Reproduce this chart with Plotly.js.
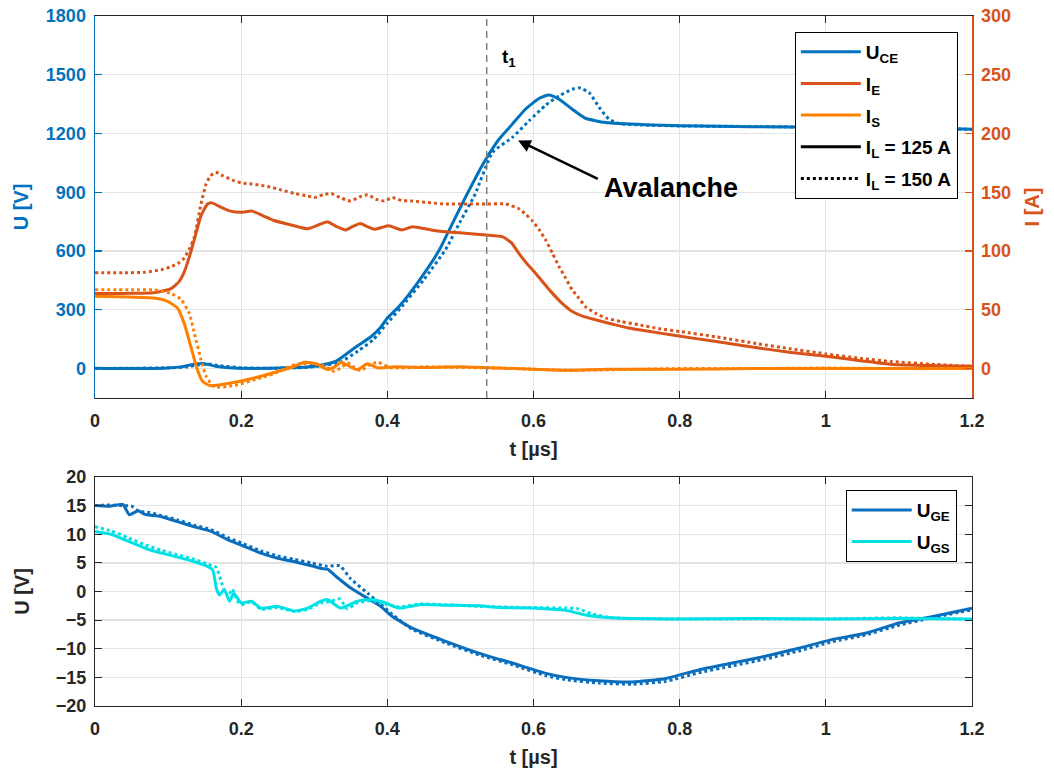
<!DOCTYPE html>
<html>
<head>
<meta charset="utf-8">
<script src="https://cdn.plot.ly/plotly-3.0.1.min.js"></script>
<style>
  html, body { margin: 0; padding: 0; background: #ffffff; }
  #chart { width: 1054px; height: 771px; }
</style>
</head>
<body>
<div id="chart"></div>
<script>
// ---- Switching transient: collector-emitter voltage and currents ----
// U_CE [V], I_L = 125 A (solid) and I_L = 150 A (dotted)
const tUce125 = [0, 0.05, 0.1, 0.12, 0.135, 0.15, 0.165, 0.19, 0.22, 0.26, 0.29, 0.31, 0.33, 0.355, 0.378, 0.39, 0.4, 0.416, 0.444, 0.471, 0.489, 0.507, 0.526, 0.535, 0.553, 0.571, 0.589, 0.608, 0.621, 0.635, 0.653, 0.671, 0.699, 0.753, 0.8, 0.9, 1.0, 1.1, 1.2];
const uce125  = [2, 0, 3, 10, 22, 25, 12, 3, 1, 4, 8, 18, 38, 105, 164, 207, 258, 317, 452, 605, 740, 875, 1011, 1070, 1172, 1248, 1324, 1380, 1397, 1375, 1324, 1278, 1256, 1245, 1240, 1235, 1233, 1232, 1222];
const tUce150 = [0, 0.05, 0.1, 0.125, 0.14, 0.155, 0.17, 0.2, 0.25, 0.29, 0.31, 0.335, 0.36, 0.38, 0.4, 0.42, 0.45, 0.48, 0.5, 0.52, 0.544, 0.571, 0.594, 0.617, 0.635, 0.653, 0.662, 0.676, 0.69, 0.703, 0.717, 0.75, 0.8, 0.9, 1.0, 1.1, 1.2];
const uce150  = [0, 2, 4, 8, 18, 24, 15, 4, 2, 6, 14, 32, 90, 145, 232, 318, 455, 610, 752, 890, 1104, 1180, 1265, 1346, 1392, 1426, 1434, 1409, 1333, 1274, 1251, 1243, 1239, 1236, 1232, 1230, 1221];

// I_E [A]
const tIe125 = [0, 0.04, 0.08, 0.104, 0.115, 0.122, 0.13, 0.136, 0.145, 0.154, 0.16, 0.17, 0.185, 0.2, 0.215, 0.23, 0.245, 0.27, 0.291, 0.305, 0.318, 0.33, 0.343, 0.353, 0.363, 0.372, 0.382, 0.392, 0.402, 0.42, 0.434, 0.46, 0.48, 0.51, 0.535, 0.558, 0.57, 0.58, 0.59, 0.603, 0.615, 0.626, 0.64, 0.653, 0.67, 0.685, 0.71, 0.73, 0.76, 0.79, 0.85, 0.908, 0.95, 1.0, 1.05, 1.09, 1.15, 1.2];
const ie125  = [64, 64, 64.5, 68, 74, 82, 97, 110, 130, 140, 141, 138, 134, 133, 134, 130, 126, 122, 119, 122, 125, 121, 118, 121, 123.5, 121, 118.5, 120, 121.5, 118, 120.6, 118, 116.4, 115, 113.6, 112, 107, 98, 90, 81, 72, 64, 55, 48.6, 44, 41.5, 37.5, 34.5, 31.5, 28.5, 23, 17.5, 14, 10.5, 6.5, 3.5, 2.5, 2];
const tIe150 = [0, 0.04, 0.068, 0.09, 0.104, 0.115, 0.122, 0.13, 0.136, 0.145, 0.152, 0.158, 0.165, 0.175, 0.19, 0.2, 0.215, 0.236, 0.255, 0.273, 0.29, 0.3, 0.312, 0.323, 0.337, 0.35, 0.362, 0.373, 0.385, 0.396, 0.407, 0.42, 0.434, 0.46, 0.48, 0.51, 0.535, 0.562, 0.58, 0.59, 0.598, 0.608, 0.617, 0.626, 0.635, 0.644, 0.653, 0.662, 0.671, 0.685, 0.699, 0.72, 0.744, 0.772, 0.8, 0.85, 0.908, 0.95, 1.0, 1.05, 1.09, 1.15, 1.2];
const ie150  = [81.5, 81.5, 82, 84, 86.7, 90, 94, 103, 112, 140, 157, 164, 167, 164, 160, 158, 157, 155, 152, 149, 147, 145.5, 148, 149, 145, 142.6, 146, 148, 144, 142.6, 145.5, 143, 142.6, 141, 140, 140, 140, 140, 136, 131, 126, 118, 109, 98, 86.7, 77, 67, 60, 52.8, 47, 43, 40, 37.3, 34, 31.6, 27, 21, 17, 12.5, 8.5, 6, 3.5, 2];

// I_S [A]
const tIs125 = [0, 0.044, 0.081, 0.1, 0.113, 0.122, 0.131, 0.14, 0.147, 0.157, 0.17, 0.182, 0.2, 0.227, 0.25, 0.273, 0.286, 0.296, 0.305, 0.318, 0.328, 0.337, 0.348, 0.359, 0.373, 0.387, 0.41, 0.45, 0.5, 0.55, 0.6, 0.65, 0.7, 0.8, 0.9, 1.0, 1.1, 1.2];
const is125  = [61.5, 61, 60, 57, 51.4, 38.7, 19, -0.8, -10.8, -14.4, -14, -12.7, -10.5, -6.5, -2.5, 2, 5.4, 5, 3.4, -0.8, 1.5, 5.4, 2, -0.8, 4.2, 0.6, 1.5, 1, 1.5, 0.5, -0.5, -1.5, -0.5, -0.5, 0, 0, 0, 0];
const tIs150 = [0, 0.05, 0.081, 0.104, 0.118, 0.129, 0.136, 0.145, 0.152, 0.163, 0.19, 0.227, 0.25, 0.273, 0.3, 0.315, 0.327, 0.337, 0.346, 0.355, 0.364, 0.375, 0.387, 0.405, 0.45, 0.5, 0.55, 0.6, 0.65, 0.7, 0.8, 0.9, 1.0, 1.1, 1.2];
const is150  = [67, 67, 67, 64, 58.7, 47, 30, 7.6, -6.5, -15.5, -14.4, -7.9, -3, 3.4, 4.2, 2, -2.3, 1, 4.8, 1, -1.7, 3, 5.4, 0.6, 1.5, 1, 0.5, -0.5, -1.5, -1, 0, 0, 0.5, 0, 0];

// ---- Gate voltages [V] ----
const tUge125 = [0, 0.02, 0.038, 0.047, 0.059, 0.068, 0.09, 0.113, 0.136, 0.159, 0.182, 0.2, 0.227, 0.25, 0.273, 0.296, 0.31, 0.318, 0.332, 0.35, 0.373, 0.391, 0.405, 0.434, 0.48, 0.526, 0.571, 0.617, 0.644, 0.69, 0.735, 0.781, 0.826, 0.872, 0.917, 0.963, 1.008, 1.054, 1.1, 1.145, 1.2];
const uge125  = [15, 14.9, 15.2, 13.4, 14.1, 13.5, 13.1, 12.2, 11.3, 10.5, 9.0, 8.1, 6.7, 5.8, 5.2, 4.5, 4.0, 3.9, 2.4, 0.6, -1.2, -2.6, -4.2, -6.4, -8.7, -10.8, -12.5, -14.3, -15.0, -15.6, -15.8, -15.2, -13.7, -12.5, -11.3, -9.9, -8.4, -7.3, -5.5, -4.4, -2.9];
const tUge150 = [0, 0.02, 0.038, 0.05, 0.06, 0.075, 0.09, 0.113, 0.136, 0.159, 0.182, 0.2, 0.227, 0.25, 0.273, 0.296, 0.318, 0.335, 0.35, 0.373, 0.391, 0.405, 0.434, 0.48, 0.526, 0.571, 0.617, 0.644, 0.69, 0.735, 0.781, 0.826, 0.872, 0.917, 0.963, 1.008, 1.054, 1.1, 1.145, 1.2];
const uge150  = [15, 15.1, 15.0, 14.9, 14.0, 13.8, 13.3, 12.5, 11.6, 10.8, 9.4, 8.5, 7.1, 6.2, 5.6, 5.0, 4.4, 4.5, 2.2, -0.3, -2.2, -3.8, -6.6, -9.0, -11.1, -12.8, -14.7, -15.4, -16.0, -16.2, -15.7, -14.2, -13.0, -11.8, -10.4, -8.8, -7.6, -5.9, -4.6, -3.2];
const tUgs125 = [0, 0.022, 0.045, 0.068, 0.091, 0.113, 0.136, 0.154, 0.161, 0.166, 0.17, 0.177, 0.184, 0.19, 0.2, 0.214, 0.227, 0.25, 0.273, 0.291, 0.309, 0.318, 0.336, 0.359, 0.378, 0.398, 0.416, 0.444, 0.48, 0.526, 0.553, 0.594, 0.644, 0.671, 0.708, 0.79, 0.9, 1.0, 1.1, 1.2];
const ugs125  = [10.5, 10.0, 8.8, 7.6, 6.7, 6.0, 5.2, 4.4, 3.8, 0.6, -0.6, 0.3, -1.7, -0.3, -2.0, -1.7, -2.9, -2.6, -3.4, -2.9, -1.7, -1.4, -2.9, -1.7, -1.4, -2.0, -2.9, -2.3, -2.4, -2.5, -2.8, -2.9, -3.3, -4.1, -4.6, -4.8, -4.7, -4.8, -4.7, -4.8];
const tUgs150 = [0, 0.022, 0.045, 0.068, 0.091, 0.113, 0.136, 0.154, 0.166, 0.172, 0.176, 0.182, 0.188, 0.194, 0.2, 0.214, 0.227, 0.25, 0.273, 0.291, 0.309, 0.32, 0.335, 0.345, 0.359, 0.378, 0.4, 0.416, 0.444, 0.48, 0.526, 0.594, 0.644, 0.66, 0.68, 0.708, 0.79, 0.9, 1.0, 1.1, 1.2];
const ugs150  = [11.3, 10.6, 9.4, 8.2, 7.2, 6.4, 5.6, 4.8, 4.2, 2.0, 0.5, -0.8, 0.4, -1.5, -2.3, -1.8, -3.1, -2.8, -3.5, -3.1, -2.0, -1.8, -1.3, -3.0, -2.0, -1.6, -2.3, -2.7, -2.2, -2.3, -2.6, -2.8, -2.9, -3.0, -3.9, -4.6, -4.8, -4.8, -4.8, -4.6, -4.9];

// Tick labels
const tTicks = [0, 0.2, 0.4, 0.6, 0.8, 1, 1.2];
const tTickText = ['0', '0.2', '0.4', '0.6', '0.8', '1', '1.2'];
const uTicks = [0, 300, 600, 900, 1200, 1500, 1800];
const iTicks = [0, 50, 100, 150, 200, 250, 300];
const gTicks = [-20, -15, -10, -5, 0, 5, 10, 15, 20];

// Event marker position t1 [µs]
const tEvent = 0.536;

const C_UCE = '#0072BD', C_IE = '#D95319', C_IS = '#FF8000';
const C_UGE = '#0A6EBD', C_UGS = '#00E1E6';
const FONT = 'Liberation Sans, Arial, Helvetica, sans-serif';
const AXC = '#262626', GRID = '#e3e3e3';
const LW = 3;

function line(x, y, color, dash, xa, ya, name, show, legend, group) {
  return {
    x: x, y: y, type: 'scatter', mode: 'lines', xaxis: xa, yaxis: ya,
    name: name, showlegend: show, legend: legend, legendgroup: group,
    line: { color: color, width: LW, dash: dash, shape: 'spline', smoothing: 0.5 },
    hoverinfo: 'skip'
  };
}

const traces = [
  line(tUce125, uce125, C_UCE, 'solid', 'x', 'y', '<b>U<sub>CE</sub></b>', true, 'legend', 'a'),
  line(tUce150, uce150, C_UCE, 'dot', 'x', 'y', 'U_CE 150', false, 'legend', 'a'),
  line(tIe125, ie125, C_IE, 'solid', 'x', 'y2', '<b>I<sub>E</sub></b>', true, 'legend', 'b'),
  line(tIe150, ie150, C_IE, 'dot', 'x', 'y2', 'I_E 150', false, 'legend', 'b'),
  line(tIs125, is125, C_IS, 'solid', 'x', 'y2', '<b>I<sub>S</sub></b>', true, 'legend', 'c'),
  line(tIs150, is150, C_IS, 'dot', 'x', 'y2', 'I_S 150', false, 'legend', 'c'),
  line([null], [null], '#000000', 'solid', 'x', 'y2', '<b>I<sub>L</sub> = 125 A</b>', true, 'legend', 'd'),
  line([null], [null], '#000000', 'dot', 'x', 'y2', '<b>I<sub>L</sub> = 150 A</b>', true, 'legend', 'e'),
  line(tUge125, uge125, C_UGE, 'solid', 'x2', 'y3', '<b>U<sub>GE</sub></b>', true, 'legend2', 'f'),
  line(tUge150, uge150, C_UGE, 'dot', 'x2', 'y3', 'U_GE 150', false, 'legend2', 'f'),
  line(tUgs125, ugs125, C_UGS, 'solid', 'x2', 'y3', '<b>U<sub>GS</sub></b>', true, 'legend2', 'g'),
  line(tUgs150, ugs150, C_UGS, 'dot', 'x2', 'y3', 'U_GS 150', false, 'legend2', 'g')
];

const tick = (c) => ({ family: FONT, size: 18, color: c, weight: 'bold' });
const ttl = (txt, c, so) => ({ text: txt, font: { family: FONT, size: 20, color: c, weight: 'bold' }, standoff: so });

const xBase = {
  range: [0, 1.2], tickvals: tTicks, ticktext: tTickText,
  ticks: 'inside', ticklen: 7, tickwidth: 1.2, tickcolor: AXC,
  showline: true, linecolor: AXC, linewidth: 1.2, mirror: 'ticks',
  showgrid: true, gridcolor: GRID, gridwidth: 1.3, zeroline: false,
  tickfont: tick(AXC), automargin: false, ticklabelstandoff: 6,
  title: ttl('t [µs]', AXC, 12)
};

const legendBase = {
  xanchor: 'left', yanchor: 'top',
  bgcolor: '#ffffff', bordercolor: '#000000', borderwidth: 1,
  font: { family: FONT, size: 19, color: '#000000' },
  tracegroupgap: 4, itemwidth: 60, traceorder: 'grouped'
};

const layout = {
  width: 1054, height: 771,
  margin: { l: 95, r: 82, t: 16, b: 65 },
  paper_bgcolor: '#ffffff', plot_bgcolor: '#ffffff',
  font: { family: FONT, color: AXC },
  xaxis: Object.assign({}, xBase, { domain: [0, 1], anchor: 'y' }),
  yaxis: {
    domain: [0.4464, 1], range: [-150, 1800], tickvals: uTicks,
    ticks: 'inside', ticklen: 7, tickwidth: 1.2, tickcolor: C_UCE,
    showline: true, linecolor: C_UCE, linewidth: 1.5,
    showgrid: true, gridcolor: GRID, gridwidth: 1.3, zeroline: false,
    tickfont: tick(C_UCE), automargin: false, ticklabelstandoff: 4,
    title: ttl('U [V]', C_UCE, 12)
  },
  yaxis2: {
    overlaying: 'y', side: 'right', anchor: 'x', range: [-25, 300], tickvals: iTicks,
    ticks: 'inside', ticklen: 7, tickwidth: 1.2, tickcolor: C_IE,
    showline: true, linecolor: C_IE, linewidth: 1.5,
    showgrid: false, zeroline: false,
    tickfont: tick(C_IE), automargin: false, ticklabelstandoff: 4,
    title: ttl('I [A]', C_IE, 15)
  },
  xaxis2: Object.assign({}, xBase, { domain: [0, 1], anchor: 'y3' }),
  yaxis3: {
    domain: [0, 0.3319], anchor: 'x2', range: [-20, 20], tickvals: gTicks,
    ticks: 'inside', ticklen: 7, tickwidth: 1.2, tickcolor: AXC,
    showline: true, linecolor: AXC, linewidth: 1.2, mirror: 'ticks',
    showgrid: true, gridcolor: GRID, gridwidth: 1.3, zeroline: false,
    tickfont: tick(AXC), automargin: false, ticklabelstandoff: 4,
    title: ttl('U [V]', AXC, 20)
  },
  legend: Object.assign({}, legendBase, { x: 0.798, y: 0.977 }),
  legend2: Object.assign({}, legendBase, { x: 0.856, y: 0.313 }),
  shapes: [{
    type: 'line', xref: 'x', yref: 'y', x0: tEvent, x1: tEvent, y0: -150, y1: 1800,
    line: { color: '#808080', width: 1.5, dash: '7px,5px' }, layer: 'above'
  }],
  annotations: [
    {
      xref: 'x', yref: 'y', x: 0.567, y: 1587, text: '<b>t<sub>1</sub></b>',
      showarrow: false, font: { family: FONT, size: 19, color: '#000000' }
    },
    {
      xref: 'x', yref: 'y', x: 0.788, y: 920, text: '<b>Avalanche</b>',
      showarrow: false, font: { family: FONT, size: 27, color: '#000000' }
    },
    {
      xref: 'x', yref: 'y', x: 0.579, y: 1164, axref: 'x', ayref: 'y', ax: 0.69, ay: 965,
      text: '', showarrow: true, arrowhead: 2, arrowsize: 1, arrowwidth: 2.5, arrowcolor: '#000000'
    }
  ]
};

Plotly.newPlot('chart', traces, layout, { displayModeBar: false, staticPlot: true });
</script>
</body>
</html>
